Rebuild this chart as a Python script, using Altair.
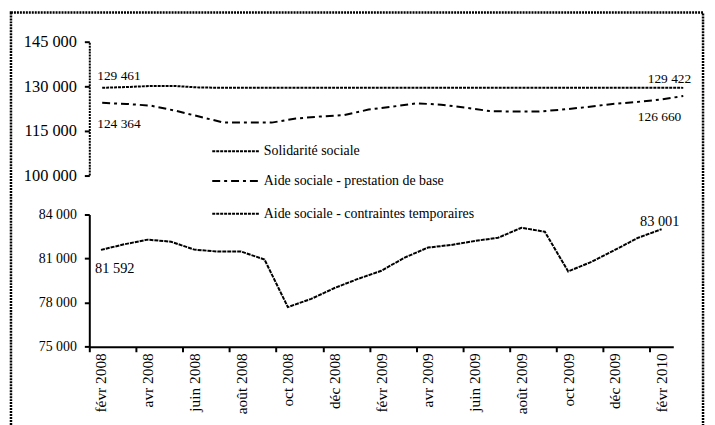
import altair as alt
import pandas as pd

months = ['févr 2008', 'mars 2008', 'avr 2008', 'mai 2008', 'juin 2008', 'juil 2008',
          'août 2008', 'sept 2008', 'oct 2008', 'nov 2008', 'déc 2008', 'janv 2009',
          'févr 2009', 'mars 2009', 'avr 2009', 'mai 2009', 'juin 2009', 'juil 2009',
          'août 2009', 'sept 2009', 'oct 2009', 'nov 2009', 'déc 2009', 'janv 2010',
          'févr 2010']

solidarite = [129461, 129700, 130050, 130050, 129550, 129450, 129450, 129450, 129450,
              129450, 129450, 129450, 129450, 129450, 129450, 129450, 129450, 129450,
              129450, 129450, 129450, 129450, 129450, 129440, 129422]

prestation = [124364, 124000, 123430, 121760, 119750, 117740, 117740, 117700, 119080,
              119750, 120250, 122090, 123100, 124200, 123760, 122760, 121590, 121420,
              121420, 122090, 122930, 123930, 124600, 125430, 126660]

contraintes = [81592, 81975, 82290, 82150, 81610, 81480, 81480, 80940, 77700, 78260,
               79000, 79620, 80170, 81070, 81750, 81930, 82200, 82420, 83100, 82830,
               80130, 80780, 81590, 82420, 83001]

legend_labels = ['Solidarité sociale', 'Aide sociale - prestation de base',
                 'Aide sociale - contraintes temporaires']

top_ticks = [100000, 115000, 130000, 145000]
bottom_ticks = [75000, 78000, 81000, 84000]


def fmt(v):
    return f"{v:,}".replace(",", " ")


df = pd.DataFrame({
    "i": list(range(len(months))),
    "mois": months,
    "solidarite": solidarite,
    "prestation": prestation,
    "contraintes": contraintes,
})
df["lab_sol"] = [fmt(v) for v in solidarite]
df["lab_pre"] = [fmt(v) for v in prestation]
df["lab_con"] = [fmt(v) for v in contraintes]
last = len(months) - 1

one = pd.DataFrame({"a": [0]})
FONT = "Liberation Serif, Times New Roman, Times, serif"
num_expr = "replace(format(datum.value, ',d'), ',', ' ')"

# ---------------- top panel ----------------
top_x = alt.X("i:Q", scale=alt.Scale(domain=[-0.532, 24.53], nice=False, zero=False), axis=None)
top_scale = alt.Scale(domain=[100000, 145000], nice=False, zero=False)
top_axis = alt.Axis(values=top_ticks, labelExpr=num_expr, grid=False,
                    domainColor="black", domainWidth=2, domainDash=[2, 1],
                    tickColor="black", tickWidth=2, tickSize=5,
                    labelFont=FONT, labelFontSize=16.5, labelColor="black",
                    labelPadding=8, title=None)

base_top = alt.Chart(df)
sol_line = base_top.mark_line(color="black", strokeWidth=2, strokeDash=[3, 1]).encode(
    x=top_x, y=alt.Y("solidarite:Q", scale=top_scale, axis=top_axis))
pre_line = base_top.mark_line(color="black", strokeWidth=2, strokeDash=[8, 4, 3, 4]).encode(
    x=top_x, y=alt.Y("prestation:Q", scale=top_scale, axis=top_axis))

txt = dict(font=FONT, fontSize=13.5, color="black")
lab_sol_first = base_top.transform_filter(alt.datum.i == 0).mark_text(
    align="left", baseline="alphabetic", dx=-5, dy=-8, **txt).encode(
    x=top_x, y=alt.Y("solidarite:Q", scale=top_scale), text="lab_sol:N")
lab_pre_first = base_top.transform_filter(alt.datum.i == 0).mark_text(
    align="left", baseline="alphabetic", dx=-5, dy=25, **txt).encode(
    x=top_x, y=alt.Y("prestation:Q", scale=top_scale), text="lab_pre:N")
lab_sol_last = base_top.transform_filter(alt.datum.i == last).mark_text(
    align="right", baseline="alphabetic", dx=8, dy=-5, **txt).encode(
    x=top_x, y=alt.Y("solidarite:Q", scale=top_scale), text="lab_sol:N")
lab_pre_last = base_top.transform_filter(alt.datum.i == last).mark_text(
    align="right", baseline="alphabetic", dx=-2, dy=25, **txt).encode(
    x=top_x, y=alt.Y("prestation:Q", scale=top_scale), text="lab_pre:N")

# legend (drawn in the top panel's coordinate space)
leg_y = [110.5, 140.5, 173.5]
leg_dash = [[3, 1], [8, 4, 3, 4], [3, 1]]
legend_layers = []
for lbl, yy, dash in zip(legend_labels, leg_y, leg_dash):
    legend_layers.append(alt.Chart(one).mark_rule(color="black", strokeWidth=2, strokeDash=dash).encode(
        x=alt.value(124), x2=alt.value(171), y=alt.value(yy)))
    legend_layers.append(alt.Chart(one).mark_text(align="left", baseline="middle",
                                                  font=FONT, fontSize=14, color="black").encode(
        x=alt.value(176), y=alt.value(yy), text=alt.value(lbl)))

border = alt.Chart(one).mark_rect(fillOpacity=0, stroke="black", strokeWidth=2.5, strokeDash=[2, 1]).encode(
    x=alt.value(-79), x2=alt.value(619), y=alt.value(-29.5), y2=alt.value(430))

top = alt.layer(border, sol_line, pre_line, lab_sol_first, lab_pre_first, lab_sol_last,
                lab_pre_last, *legend_layers).properties(width=612, height=134.5)

# ---------------- bottom panel ----------------
xvals = []
for k in range(len(months)):
    if k % 2 == 0:
        xvals.append(k - 0.5)
        xvals.append(k)
month_js = "[" + ",".join("'" + m + "'" for m in months) + "]"
x_axis = alt.Axis(values=xvals,
                  labelExpr=f"datum.value % 2 == 0 ? {month_js}[datum.value] : ''",
                  tickOpacity={"condition": {"test": "datum.value % 1 != 0", "value": 1}, "value": 0},
                  labelAngle=-90, labelOverlap=False, labelBound=False, labelFlush=False,
                  grid=False, domainColor="black", domainWidth=2,
                  tickColor="black", tickWidth=2, tickSize=5,
                  labelFont=FONT, labelFontSize=15.5, labelColor="black", labelPadding=1,
                  title=None)
bot_x = alt.X("i:Q", scale=alt.Scale(domain=[-0.5, 24.5], nice=False, zero=False), axis=x_axis)
bot_scale = alt.Scale(domain=[75000, 84000], nice=False, zero=False)
bot_axis = alt.Axis(values=bottom_ticks, labelExpr=num_expr, grid=False,
                    domainColor="black", domainWidth=2,
                    tickColor="black", tickWidth=2, tickSize=5,
                    labelFont=FONT, labelFontSize=14, labelColor="black",
                    labelPadding=8, title=None)

base_bot = alt.Chart(df)
con_line = base_bot.mark_line(color="black", strokeWidth=2, strokeDash=[4, 1]).encode(
    x=bot_x, y=alt.Y("contraintes:Q", scale=bot_scale, axis=bot_axis))
lab_con_first = base_bot.transform_filter(alt.datum.i == 0).mark_text(
    align="left", baseline="alphabetic", dx=-6, dy=23, font=FONT, fontSize=14.5, color="black").encode(
    x=bot_x, y=alt.Y("contraintes:Q", scale=bot_scale), text="lab_con:N")
lab_con_last = base_bot.transform_filter(alt.datum.i == last).mark_text(
    align="right", baseline="alphabetic", dx=18, dy=-3, font=FONT, fontSize=14.5, color="black").encode(
    x=bot_x, y=alt.Y("contraintes:Q", scale=bot_scale), text="lab_con:N")

bottom = alt.layer(con_line, lab_con_first, lab_con_last).properties(width=589, height=133.4)

chart = alt.vconcat(top, bottom, spacing=39.3, bounds="flush",
                    padding={"left": 1, "top": 1, "right": 2, "bottom": 0}
                    ).configure(background="white").configure_view(stroke="transparent", strokeWidth=0)

chart.save("out.html", embed_options={"renderer": "svg", "actions": False})
